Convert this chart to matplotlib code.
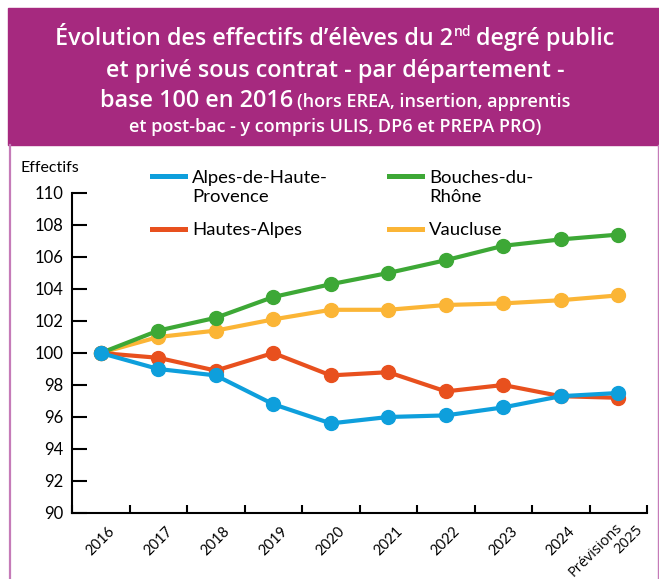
import matplotlib.pyplot as plt
from matplotlib.lines import Line2D
from matplotlib.patches import Rectangle
from matplotlib.legend_handler import HandlerLine2D

# Données (base 100 en 2016)
annees = ['2016', '2017', '2018', '2019', '2020', '2021', '2022', '2023', '2024', 'Prévisions\n2025']
alpes_haute_provence = [100, 99.0, 98.6, 96.8, 95.6, 96.0, 96.1, 96.6, 97.3, 97.5]
hautes_alpes = [100, 99.7, 98.9, 100.0, 98.6, 98.8, 97.6, 98.0, 97.3, 97.2]
bouches_du_rhone = [100, 101.4, 102.2, 103.5, 104.3, 105.0, 105.8, 106.7, 107.1, 107.4]
vaucluse = [100, 101.0, 101.4, 102.1, 102.7, 102.7, 103.0, 103.1, 103.3, 103.6]

series = [
    ('Alpes-de-Haute-\nProvence', alpes_haute_provence, '#0E9FDC', 4),
    ('Hautes-Alpes', hautes_alpes, '#E8501E', 3),
    ('Bouches-du-\nRhône', bouches_du_rhone, '#3DA836', 2),
    ('Vaucluse', vaucluse, '#FBB536', 1),
]

VIOLET = '#A6297F'
POLICE = 'Lato'
POLICE_TITRE = 'Open Sans'

W, H = 659, 579
fig = plt.figure(figsize=(W / 100, H / 100), dpi=100)


def fx(px):
    return px / W


def fy(py):
    return 1 - py / H


# Bandeau du titre + cadre
fig.patches.append(Rectangle((fx(8), fy(145)), fx(659) - fx(8), fy(8) - fy(145),
                             transform=fig.transFigure, color=VIOLET, zorder=0))
fig.add_artist(Line2D([fx(10), fx(10)], [fy(145), 0], color='#C57BB8', lw=1.6))
fig.add_artist(Line2D([fx(657.5), fx(657.5)], [fy(145), 0], color='#C57BB8', lw=1.0))

rend = fig.canvas.get_renderer()


def ligne(morceaux, base, centre=335):
    # morceaux : (texte, taille, decalage vertical px, espace apres px)
    objs = []
    for txt, taille, dy, esp in morceaux:
        t = fig.text(0, fy(base + dy), txt, fontsize=taille, color='white',
                     fontweight='semibold', family=POLICE_TITRE, va='baseline')
        objs.append((t, esp))
    larg = [t.get_window_extent(rend).width + esp for t, esp in objs]
    x = centre - sum(larg) / 2
    for (t, esp), w in zip(objs, larg):
        t.set_x(fx(x))
        x += w


ligne([('Évolution des effectifs d’élèves du 2', 16.8, 0, 0.5),
       ('nd', 10, -9, 5),
       ('degré public', 16.8, 0, 0)], 45)
ligne([('et privé sous contrat - par département -', 16.8, 0, 0)], 77)
ligne([('base 100 en 2016', 16.8, 0, 4),
       ('(hors EREA, insertion, apprentis', 13, 0, 0)], 107)
ligne([('et post-bac - y compris ULIS, DP6 et PREPA PRO)', 13, 0, 0)], 132)

# Graphique
ax = fig.add_axes([fx(72), fy(513), fx(647) - fx(72), fy(193) - fy(513)])
x = list(range(len(annees)))
lignes = []
for nom, vals, coul, z in series:
    l, = ax.plot(x, vals, color=coul, lw=3, marker='o', markersize=10,
                 label=nom, zorder=z, clip_on=False)
    lignes.append(l)

ax.set_xlim(-0.5, len(annees) - 0.5)
ax.set_ylim(90, 110)
ax.set_yticks(range(90, 111, 2))
ax.set_xticks([i - 0.5 for i in range(len(annees) + 1)])
ax.set_xticklabels([])
ax.set_xticks(x, minor=True)
# le dernier libellé (sur deux lignes) est placé à part
ax.set_xticklabels(annees[:-1] + [''], minor=True, rotation=45, ha='center', va='top',
                   fontsize=10.5, family=POLICE)
prev, an = annees[-1].split('\n')
for txt, dx, dy in [(an, 7.5, -19.4), (prev, -16.6, -26.6)]:
    ax.annotate(txt, xy=(x[-1], 0), xycoords=('data', 'axes fraction'),
                xytext=(dx, dy), textcoords='offset points', rotation=45,
                ha='center', va='center', fontsize=10.5, family='Open Sans',
                annotation_clip=False)
ax.tick_params(axis='x', which='major', direction='in', length=6, width=1.5)
ax.tick_params(axis='x', which='minor', length=0, pad=8)
ax.tick_params(axis='y', direction='in', length=11, width=1.5, pad=6, labelsize=12)
for lab in ax.get_yticklabels():
    lab.set_family(POLICE)
for s in ['top', 'right']:
    ax.spines[s].set_visible(False)
for s in ['left', 'bottom']:
    ax.spines[s].set_linewidth(1.5)

fig.text(fx(20), fy(168), 'Effectifs', fontsize=11.5, family=POLICE, va='center')


# Légende : trait aligné sur la première ligne du libellé
class HandlerHaut(HandlerLine2D):
    def __init__(self, decalage, **kw):
        super().__init__(**kw)
        self.decalage = decalage

    def create_artists(self, legend, orig_handle, xdescent, ydescent, width, height,
                       fontsize, trans):
        arts = super().create_artists(legend, orig_handle, xdescent, ydescent, width,
                                      height, fontsize, trans)
        for a in arts:
            a.set_ydata([y + self.decalage for y in a.get_ydata()])
            a.set_marker('')
            a.set_linewidth(3.6)
        return arts


handlers = {l: HandlerHaut(8.5 if '\n' in l.get_label() else 0) for l in lignes}
fig.legend(handles=lignes, ncol=2, loc='upper left',
           bbox_to_anchor=(fx(152), fy(170)), frameon=False, borderpad=0,
           borderaxespad=0, handlelength=1.8, handletextpad=0.38,
           columnspacing=3.3, labelspacing=0.95, prop={'family': POLICE, 'size': 13.3},
           handler_map=handlers)

fig.savefig('out.png', dpi=100)
